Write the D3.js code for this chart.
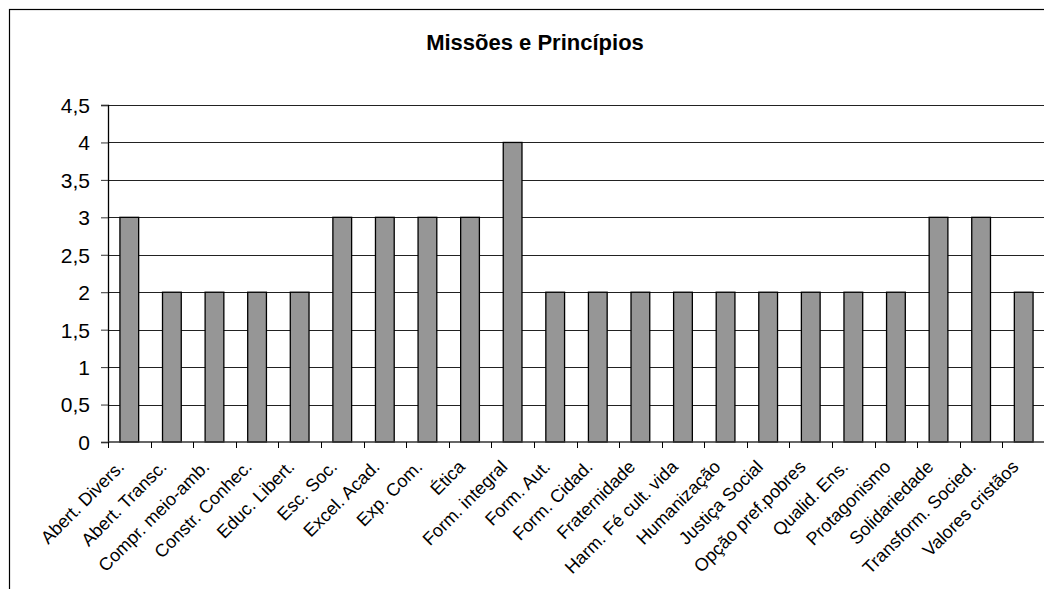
<!DOCTYPE html>
<html>
<head>
<meta charset="utf-8">
<script src="https://cdn.jsdelivr.net/npm/d3@7"></script>
<style>
  body { margin: 0; background: #fff; }
  svg { display: block; font-family: "Liberation Sans", Arial, sans-serif; }
  .grid line { stroke: #222; stroke-width: 1; shape-rendering: crispEdges; }
  .y.axis text { font-size: 21px; fill: #000; }
  .x.axis text { font-size: 18px; fill: #000; }
</style>
</head>
<body>
<svg class="chart" width="1044" height="589"></svg>
<script>
/**********************
 Data
**********************/
var categories = ["Abert. Divers.", "Abert. Transc.", "Compr. meio-amb.", "Constr. Conhec.",
  "Educ. Libert.", "Esc. Soc.", "Excel. Acad.", "Exp. Com.", "Ética", "Form. integral",
  "Form. Aut.", "Form. Cidad.", "Fraternidade", "Harm. Fé cult. vida", "Humanização",
  "Justiça Social", "Opção pref.pobres", "Qualid. Ens.", "Protagonismo", "Solidariedade",
  "Transform. Socied.", "Valores cristãos"];
var values = [3, 2, 2, 2, 2, 3, 3, 3, 3, 4, 2, 2, 2, 2, 2, 2, 2, 2, 2, 3, 3, 2];
var yTicks = [0, 0.5, 1, 1.5, 2, 2.5, 3, 3.5, 4, 4.5];
var title = "Missões e Princípios";

/**********************
 Layout
**********************/
var svg = d3.select('svg.chart');
var padding = {t: 105, l: 108};
var chartWidth = 937;
var chartHeight = 337;

// outer chart border (runs off the right and bottom of the picture)
svg.append('rect')
    .attr('x', 9.5).attr('y', 9.5)
    .attr('width', 1200).attr('height', 800)
    .attr('fill', 'none')
    .attr('stroke', '#000')
    .attr('stroke-width', 1.2);

svg.append('text')
    .attr('x', 535).attr('y', 50)
    .attr('text-anchor', 'middle')
    .style('font-size', '22px')
    .style('font-weight', 'bold')
    .text(title);

var chartG = svg.append('g')
    .attr('transform', 'translate(' + [padding.l, padding.t] + ')');

var xScale = d3.scaleBand().domain(categories).range([0, chartWidth]);
var yScale = d3.scaleLinear().domain([0, 4.5]).range([chartHeight, 0]);

// gridlines
chartG.append('g').attr('class', 'grid')
    .selectAll('line')
    .data(yTicks.filter(function(d) { return d > 0; }))
    .enter().append('line')
    .attr('x1', 0).attr('x2', chartWidth)
    .attr('y1', function(d) { return Math.round(yScale(d)) + 0.5; })
    .attr('y2', function(d) { return Math.round(yScale(d)) + 0.5; });

// bars
var bw = xScale.bandwidth() * 0.44;
chartG.selectAll('.bar')
    .data(values)
    .enter().append('rect')
    .attr('class', 'bar')
    .attr('x', function(d, i) { return xScale(categories[i]) + xScale.bandwidth() / 2 - bw / 2; })
    .attr('y', function(d) { return yScale(d); })
    .attr('width', bw)
    .attr('height', function(d) { return chartHeight - yScale(d); })
    .attr('fill', '#969696')
    .attr('stroke', '#000')
    .attr('stroke-width', 1.3);

// y axis
var yAxisG = chartG.append('g').attr('class', 'y axis')
    .call(d3.axisLeft(yScale).tickValues(yTicks).tickSize(7).tickPadding(11)
        .tickFormat(function(d) { return String(d).replace('.', ','); }));
yAxisG.select('.domain').attr('stroke', '#000').attr('stroke-width', 1.3);
yAxisG.selectAll('.tick line').attr('stroke', '#333');
yAxisG.selectAll('text').attr('dy', '0.35em');

// x axis: ticks between categories
var xAxisG = chartG.append('g').attr('class', 'x axis')
    .attr('transform', 'translate(0,' + chartHeight + ')');
xAxisG.append('line')
    .attr('x1', 0).attr('x2', chartWidth)
    .attr('y1', 0).attr('y2', 0)
    .attr('stroke', '#333').attr('stroke-width', 1.3);
xAxisG.selectAll('.tk')
    .data(categories)
    .enter().append('line')
    .attr('class', 'tk')
    .attr('x1', function(d) { return Math.round(xScale(d)) + 0.5; })
    .attr('x2', function(d) { return Math.round(xScale(d)) + 0.5; })
    .attr('y1', 0).attr('y2', 6)
    .attr('stroke', '#000');
xAxisG.selectAll('.lbl')
    .data(categories)
    .enter().append('text')
    .attr('class', 'lbl')
    .attr('text-anchor', 'end')
    .attr('transform', function(d) {
        var cx = xScale(d) + xScale.bandwidth() / 2 - 4;
        return 'translate(' + [cx, 26] + ') rotate(-45)';
    })
    .text(function(d) { return d; });
</script>
</body>
</html>
